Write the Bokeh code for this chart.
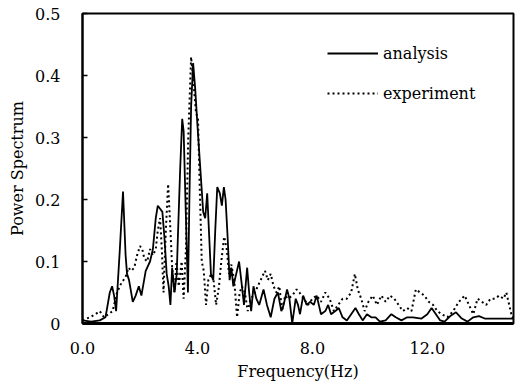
from bokeh.plotting import figure
from bokeh.models import Range1d, Legend, LegendItem, FixedTicker
from bokeh.embed import file_html
from bokeh.resources import INLINE

# ---- data ----
analysis_x = [0.0, 0.3, 0.6, 0.8, 0.95, 1.03, 1.1, 1.17, 1.3, 1.41, 1.5, 1.55, 1.62, 1.75, 1.85, 1.96,
              2.05, 2.2, 2.35, 2.45, 2.55, 2.62, 2.7, 2.78, 2.85, 2.93, 3.0, 3.06, 3.12, 3.2, 3.28, 3.32,
              3.4, 3.47, 3.52, 3.6, 3.67, 3.72, 3.78, 3.85, 3.92, 4.0, 4.1, 4.2, 4.27, 4.34, 4.4, 4.47,
              4.55, 4.62, 4.69, 4.78, 4.85, 4.92, 4.98, 5.05, 5.12, 5.18, 5.25, 5.35, 5.45, 5.55, 5.62,
              5.73, 5.8, 5.87, 5.95, 6.05, 6.15, 6.3, 6.42, 6.55, 6.68, 6.8, 6.92, 7.0, 7.12, 7.2, 7.3,
              7.42, 7.5, 7.57, 7.68, 7.8, 7.92, 8.05, 8.15, 8.3, 8.45, 8.55, 8.65, 8.8, 8.92, 9.05, 9.2,
              9.35, 9.5, 9.62, 9.75, 9.9, 10.05, 10.2, 10.35, 10.55, 10.75, 10.9, 11.1, 11.3, 11.5, 11.8,
              12.0, 12.15, 12.3, 12.45, 12.6, 12.8, 13.0, 13.2, 13.4, 13.6, 13.8, 14.0, 14.3, 14.6, 15.0]
analysis_y = [0.005, 0.003, 0.005, 0.01, 0.05, 0.06, 0.045, 0.02, 0.12, 0.213, 0.11, 0.08, 0.07, 0.035,
              0.045, 0.06, 0.045, 0.085, 0.1, 0.12, 0.17, 0.19, 0.185, 0.18, 0.14, 0.08, 0.06, 0.03,
              0.09, 0.05, 0.08, 0.14, 0.25, 0.33, 0.31, 0.17, 0.05, 0.2, 0.35, 0.42, 0.38, 0.32, 0.25,
              0.18, 0.17, 0.21, 0.15, 0.08, 0.07, 0.15, 0.22, 0.21, 0.19, 0.22, 0.2, 0.14, 0.07, 0.09,
              0.06, 0.08, 0.1, 0.06, 0.03, 0.09, 0.05, 0.02, 0.06, 0.04, 0.03, 0.055, 0.03, 0.01, 0.04,
              0.05, 0.02, 0.03, 0.055, 0.04, 0.0, 0.04, 0.03, 0.015, 0.045, 0.03, 0.035, 0.03, 0.045,
              0.015, 0.02, 0.03, 0.015, 0.02, 0.025, 0.01, 0.005, 0.015, 0.025, 0.015, 0.005, 0.015,
              0.01, 0.01, 0.003, 0.005, 0.015, 0.01, 0.005, 0.01, 0.01, 0.008, 0.015, 0.025, 0.015,
              0.005, 0.003, 0.012, 0.018, 0.008, 0.003, 0.01, 0.012, 0.008, 0.008, 0.008, 0.008]

experiment_x = [0.0, 0.25, 0.45, 0.6, 0.75, 0.9, 1.05, 1.2, 1.35, 1.5, 1.6, 1.7, 1.8, 1.9, 2.0, 2.08,
                2.15, 2.25, 2.35, 2.45, 2.55, 2.62, 2.7, 2.76, 2.82, 2.9, 2.98, 3.05, 3.12, 3.2, 3.27,
                3.35, 3.45, 3.52, 3.6, 3.68, 3.78, 3.86, 3.95, 4.02, 4.08, 4.15, 4.22, 4.3, 4.38, 4.48,
                4.56, 4.65, 4.75, 4.83, 4.93, 5.02, 5.1, 5.18, 5.28, 5.38, 5.47, 5.55, 5.65, 5.75, 5.85,
                5.95, 6.1, 6.25, 6.35, 6.45, 6.55, 6.65, 6.75, 6.85, 6.95, 7.05, 7.15, 7.3, 7.45, 7.55,
                7.7, 7.85, 8.0, 8.15, 8.3, 8.45, 8.6, 8.75, 8.9, 9.05, 9.2, 9.35, 9.48, 9.58, 9.7, 9.82,
                9.95, 10.1, 10.25, 10.4, 10.55, 10.7, 10.85, 11.0, 11.15, 11.3, 11.45, 11.6, 11.75, 11.9,
                12.05, 12.2, 12.35, 12.5, 12.7, 12.9, 13.1, 13.3, 13.45, 13.6, 13.75, 13.9, 14.05, 14.2,
                14.35, 14.5, 14.65, 14.75, 14.85, 14.95, 15.0]
experiment_y = [0.005, 0.01, 0.015, 0.02, 0.01, 0.015, 0.02, 0.05, 0.065, 0.075, 0.09, 0.085, 0.09,
                0.11, 0.125, 0.12, 0.105, 0.1, 0.12, 0.11, 0.12, 0.15, 0.17, 0.12, 0.05, 0.15, 0.225,
                0.16, 0.09, 0.05, 0.1, 0.06, 0.1, 0.04, 0.12, 0.3, 0.43, 0.39, 0.34, 0.33, 0.22, 0.1,
                0.085, 0.03, 0.07, 0.08, 0.07, 0.03, 0.06, 0.1, 0.14, 0.12, 0.08, 0.095, 0.07, 0.01,
                0.05, 0.06, 0.05, 0.02, 0.04, 0.045, 0.06, 0.075, 0.085, 0.07, 0.08, 0.06, 0.05, 0.06,
                0.02, 0.045, 0.04, 0.045, 0.055, 0.05, 0.04, 0.03, 0.04, 0.045, 0.035, 0.05, 0.04, 0.02,
                0.03, 0.04, 0.04, 0.05, 0.08, 0.055, 0.04, 0.02, 0.035, 0.045, 0.03, 0.045, 0.035, 0.045,
                0.04, 0.03, 0.02, 0.025, 0.02, 0.055, 0.05, 0.045, 0.035, 0.03, 0.02, 0.015, 0.01, 0.02,
                0.035, 0.045, 0.03, 0.015, 0.04, 0.035, 0.03, 0.04, 0.04, 0.045, 0.04, 0.05, 0.03, 0.01,
                0.01]

x_ticks = [0, 4, 8, 12]
x_tick_labels = {0: "0.0", 4: "4.0", 8: "8.0", 12: "12.0"}
y_ticks = [0, 0.1, 0.2, 0.3, 0.4, 0.5]
y_tick_labels = {0: "0", 0.1: "0.1", 0.2: "0.2", 0.3: "0.3", 0.4: "0.4", 0.5: "0.5"}

FONT = "DejaVu Serif"

p = figure(width=522, height=384, output_backend="svg", toolbar_location=None,
           x_range=Range1d(0, 15), y_range=Range1d(0, 0.5),
           min_border_left=82, min_border_right=9, min_border_top=13, min_border_bottom=61)
p.grid.visible = False
p.outline_line_color = "black"
p.outline_line_width = 2
p.background_fill_color = "white"
p.border_fill_color = "white"

r1 = p.line(analysis_x, analysis_y, line_color="black", line_width=1.8)
r2 = p.line(experiment_x, experiment_y, line_color="black", line_width=2, line_dash="2 3")

# axes
p.xaxis.ticker = FixedTicker(ticks=x_ticks)
p.xaxis.major_label_overrides = x_tick_labels
p.yaxis.ticker = FixedTicker(ticks=y_ticks)
p.yaxis.major_label_overrides = y_tick_labels
for ax in (p.xaxis, p.yaxis):
    ax.axis_line_color = "black"
    ax.axis_line_width = 2
    ax.minor_tick_line_color = None
    ax.major_tick_out = 0
    ax.major_label_text_font = FONT
    ax.major_label_text_font_size = "16px"
    ax.major_label_text_color = "black"
    ax.axis_label_text_font = FONT
    ax.axis_label_text_font_size = "16px"
    ax.axis_label_text_font_style = "normal"
    ax.axis_label_text_color = "black"
p.xaxis.axis_line_width = 3
p.xaxis.major_tick_in = 0
p.yaxis.major_tick_in = 5
p.yaxis.major_tick_line_width = 1.5
p.xaxis.major_label_standoff = 18
p.yaxis.major_label_standoff = 22
p.xaxis.axis_label = "Frequency(Hz)"
p.yaxis.axis_label = "Power Spectrum"
p.xaxis.axis_label_standoff = 5
p.yaxis.axis_label_standoff = 5

legend = Legend(items=[LegendItem(label="analysis", renderers=[r1]),
                       LegendItem(label="experiment", renderers=[r2])],
                location=(245, 220), glyph_width=51, glyph_height=20, label_height=20,
                label_standoff=5, spacing=20, padding=0, margin=0,
                border_line_alpha=0, background_fill_alpha=0,
                label_text_font=FONT, label_text_font_size="16px", label_text_color="black")
p.add_layout(legend, "center")

open("out.html", "w").write(file_html(p, INLINE))
